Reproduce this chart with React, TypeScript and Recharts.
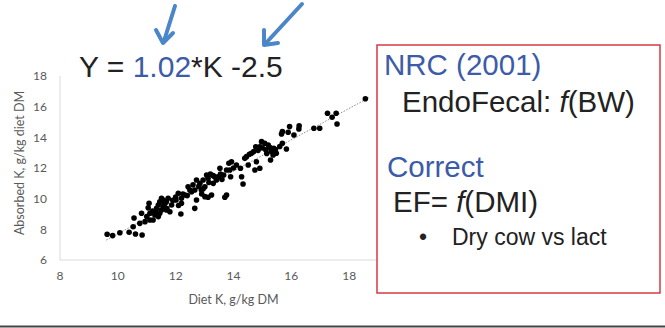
import { ScatterChart, Scatter, XAxis, YAxis, ReferenceLine, Label } from 'recharts';

// diet K vs absorbed K, g/kg DM
const dietK = [
  9.63, 9.82, 10.07, 10.39, 10.61, 10.84, 10.53, 10.76, 10.82, 10.56, 11.0, 10.94, 11.05,
  11.08, 11.11, 11.11, 11.22, 11.28, 11.34, 11.4, 11.45, 11.4, 11.45, 11.51, 11.51, 11.57, 11.57,
  11.63, 11.68, 11.68, 11.74, 11.8, 11.86, 12.01, 12.09, 12.18, 12.2, 12.2, 12.32, 12.43, 12.49,
  12.66, 12.72, 12.66, 12.72, 12.84, 12.89, 13.01, 12.95, 13.07, 13.12, 13.01, 13.12, 13.24, 13.7,
  13.76, 13.3, 13.41, 13.35, 13.47, 13.53, 13.66, 13.76, 13.87, 13.9, 13.84, 13.93, 14.33, 14.28,
  14.24, 14.51, 14.39, 14.45, 14.74, 14.91, 14.79, 14.62, 14.7, 14.77, 14.91, 14.97, 15.08, 15.2,
  15.12, 15.28, 15.37, 15.31, 15.48, 15.39, 15.69, 15.83, 15.66, 15.69, 15.89, 15.94, 16.09, 16.26,
  16.27, 16.78, 16.98, 17.25, 17.41, 17.55, 17.58, 18.56,
  11.2, 11.35, 11.6, 11.9, 12.0, 12.25, 12.4, 12.55, 12.6, 12.8, 12.95, 13.15, 13.2, 13.3, 13.55,
  14.0, 14.1, 14.55, 14.85, 15.0, 15.15, 15.25, 15.45, 15.6, 11.7, 12.1, 12.9, 13.6,
];
const absorbedK = [
  7.68, 7.59, 7.78, 7.81, 7.7, 7.63, 8.17, 8.39, 9.05, 8.74, 8.83, 8.5, 9.4,
  9.7, 9.05, 8.61, 8.61, 8.94, 9.37, 8.83, 9.05, 9.59, 9.8, 10.02, 9.26, 9.48, 9.91,
  9.7, 9.26, 9.8, 10.02, 9.15, 9.59, 9.91, 10.35, 9.0, 9.7, 10.02, 10.24, 10.78, 10.57,
  9.37, 9.91, 10.57, 11.22, 11.0, 10.57, 10.78, 11.22, 11.54, 11.33, 10.13, 10.09, 10.24, 10.09,
  10.24, 11.0, 11.22, 11.43, 11.43, 11.98, 11.54, 11.87, 11.87, 11.43, 12.31, 12.41, 10.96, 11.43,
  11.98, 12.2, 12.63, 12.74, 11.87, 11.98, 12.41, 12.96, 13.07, 13.39, 13.39, 13.72, 13.61, 13.5,
  13.18, 12.52, 12.85, 13.07, 12.96, 13.29, 13.61, 13.24, 14.22, 14.37, 14.33, 14.7, 14.15, 14.55,
  14.76, 14.59, 14.59, 15.57, 15.31, 15.57, 14.87, 16.52,
  9.2, 9.1, 9.6, 9.9, 10.1, 10.3, 10.2, 10.45, 10.9, 10.8, 10.65, 11.05, 11.6, 11.5, 11.6,
  12.0, 12.2, 12.9, 13.15, 13.3, 12.95, 13.35, 13.2, 13.4, 9.35, 9.55, 10.3, 11.25,
];

const xTicks = [8, 10, 12, 14, 16, 18];
const yTicks = [6, 8, 10, 12, 14, 16, 18];

// trendline ends (Y = 1.02*K - 2.5)
const trendX = [9.6, 18.7];
const trendY = [7.3, 16.6];

const points = dietK.map((x, i) => ({ x, y: absorbedK[i] }));

const axisGray = '#d9d9d9';
const labelGray = '#595959';
const blue = '#3c5ba9';
const arrowBlue = '#4a86c8';
const boxRed = '#d33a44';

const Dot = (props: any) => <circle cx={props.cx} cy={props.cy} r={2.8} fill="#000" />;

export default function App() {
  return (
    <div style={{ position: 'absolute', left: 0, top: 0, width: 665, height: 328, background: '#fff', overflow: 'hidden' }}>
      <ScatterChart
        width={420}
        height={328}
        margin={{ top: 76, right: 13, bottom: 20, left: 0 }}
        style={{ position: 'absolute', left: 0, top: 0 }}
      >
        <XAxis
          type="number"
          dataKey="x"
          domain={[8, 20]}
          ticks={xTicks}
          height={48}
          stroke={axisGray}
          tickLine={false}
          tickSize={0}
          tickMargin={11}
          tick={{ fill: labelGray, fontSize: 12, fontFamily: 'Lato' }}
        >
          <Label
            value="Diet K, g/kg DM"
            position="insideBottom"
            offset={4}
            style={{ fill: labelGray, fontSize: 12.5, fontFamily: 'Lato' }}
          />
        </XAxis>
        <YAxis
          type="number"
          dataKey="y"
          domain={[6, 18]}
          ticks={yTicks}
          width={60}
          stroke={axisGray}
          tickLine={false}
          tickSize={0}
          tickMargin={13}
          tick={{ fill: labelGray, fontSize: 12, fontFamily: 'Lato' }}
        >
          <Label
            value="Absorbed K, g/kg diet DM"
            angle={-90}
            position="insideLeft"
            offset={20}
            dy={-5}
            style={{ fill: labelGray, fontSize: 12.5, fontFamily: 'Lato', textAnchor: 'middle' }}
          />
        </YAxis>
        <ReferenceLine
          segment={[
            { x: trendX[0], y: trendY[0] },
            { x: trendX[1], y: trendY[1] },
          ]}
          stroke="#8c8c8c"
          strokeDasharray="1.5 1.5"
          strokeWidth={1}
          ifOverflow="visible"
        />
        <Scatter data={points} shape={Dot} isAnimationActive={false} />
      </ScatterChart>

      <svg
        width={665}
        height={328}
        style={{ position: 'absolute', left: 0, top: 0, pointerEvents: 'none' }}
        fontFamily="'Liberation Sans', Arial, sans-serif"
      >
        {/* arrows */}
        <g stroke={arrowBlue} strokeWidth={4} fill="none" strokeLinecap="round" strokeLinejoin="round">
          <line x1={175} y1={6} x2={164} y2={41} />
          <polyline points="156,30 163,43 173,33" />
          <line x1={302} y1={4} x2={266} y2={43} />
          <polyline points="264,30 264,45 278,43" />
        </g>

        <text x={79} y={77} fontSize={30} fill="#222">
          Y = <tspan fill={blue}>1.02</tspan>*K -2.5
        </text>

        {/* notes box */}
        <rect x={377} y={45} width={283} height={248} fill="#fff" stroke={boxRed} strokeWidth={1.5} />
        <text x={384} y={75} fontSize={29.5} fill={blue}>NRC (2001)</text>
        <text x={402} y={112} fontSize={29.5} fill="#222">
          EndoFecal: <tspan fontStyle="italic">f</tspan>(BW)
        </text>
        <text x={387} y={177} fontSize={29.5} fill={blue}>Correct</text>
        <text x={393} y={212} fontSize={29.5} fill="#222">
          EF= <tspan fontStyle="italic">f</tspan>(DMI)
        </text>
        <text x={419} y={245} fontSize={23} fill="#222">•</text>
        <text x={452} y={245} fontSize={23} fill="#222">Dry cow vs lact</text>

        <line x1={0} y1={326.5} x2={665} y2={326.5} stroke="#444" strokeWidth={2} />
      </svg>
    </div>
  );
}
